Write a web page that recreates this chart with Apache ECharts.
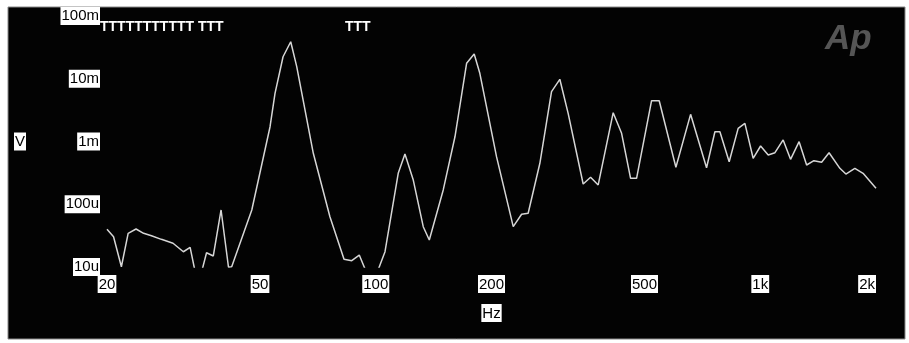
<!DOCTYPE html>
<html>
<head>
<meta charset="utf-8">
<script src="https://cdn.jsdelivr.net/npm/echarts@6/dist/echarts.min.js"></script>
<style>
  html, body { margin: 0; padding: 0; background: #fff; }
  #chart { width: 909px; height: 343px; }
</style>
</head>
<body>
<div id="chart"></div>
<script>
// frequency (Hz) of each point on the trace
var freqHz = [
  20, 20.8, 21.8, 22.7, 23.8, 24.9, 26.1, 27.7, 29.7, 31.6,
  32.9, 34.5, 36.3, 37.8, 39.6, 41.4, 42.2, 47.6, 53.1, 54.7, 57.4,
  60.1, 62.3, 68.8, 76.0, 82.7, 86.6, 90.6, 97.8, 105.7, 114.4,
  119.1, 125.2, 132.9, 137.8, 149.8, 160.7, 172.3, 180.3, 186.5, 206.1,
  227.8, 239.5, 249.1, 267.2, 286.5, 301.1, 316.5, 346.3, 362, 378.9,
  414.5, 435.9, 460, 476.8, 521.6, 546, 603.4, 658.9, 725, 762.2,
  785.3, 830.2, 876.1, 912.1, 958.3, 1002, 1049, 1092, 1147, 1199,
  1262, 1320, 1379, 1444, 1510, 1611, 1670, 1762, 1851, 2000
]
// level in microvolts
var levelUV = [
  40, 30.4, 10.1, 34.4, 40.3, 34.4, 31.5, 27.6, 23.9, 17.5,
  20.6, 5, 16.9, 15.0, 81, 9.9, 10.1, 81, 1720, 5860, 22400,
  38900, 15600, 649, 63.3, 13.3, 12.6, 15.5, 5, 17.5, 311,
  632, 243, 43.9, 26.9, 169, 1190, 17600, 24800, 12200, 573,
  43.9, 69.2, 71.8, 450, 6220, 9800, 2810, 210, 269, 203,
  2880, 1350, 259, 259, 4470, 4470, 388, 2710, 382, 1430,
  1430, 476, 1620, 1950, 540, 848, 610, 663, 1060, 520,
  993, 422, 494, 466, 663, 374, 303, 374, 311, 180
]
var xTicks = [20, 50, 100, 200, 500, 1000, 2000]
var yTickNames = { '-5': '10u', '-4': '100u', '-3': '1m', '-2': '10m', '-1': '100m' }

var pts = []
for (var i = 0; i < freqHz.length; i++) {
  pts.push([freqHz[i], levelUV[i] * 1e-6])
}

var labelBox = {
  color: '#000',
  backgroundColor: '#fff',
  padding: [2, 1, 1, 1],
  fontFamily: 'Liberation Sans, Arial, sans-serif',
  fontSize: 15
}

var myChart = echarts.init(document.getElementById('chart'))
var option = {
  backgroundColor: '#fff',
  animation: false,
  graphic: [
    { type: 'rect', z: -10, shape: { x: 8, y: 7, width: 897, height: 332 },
      style: { fill: '#030303', stroke: '#888', lineWidth: 1 } },
    { type: 'text', left: 100, top: 20, style: { text: 'TTTTTTTTTTT', fill: '#fff', font: 'bold 14px Liberation Sans' } },
    { type: 'text', left: 198, top: 20, style: { text: 'TTT', fill: '#fff', font: 'bold 14px Liberation Sans' } },
    { type: 'text', left: 345, top: 20, style: { text: 'TTT', fill: '#fff', font: 'bold 14px Liberation Sans' } },
    { type: 'text', left: 825, top: 22, style: { text: 'Ap', fill: '#555', font: 'italic bold 35px Liberation Sans' } }
  ],
  grid: { left: 107, right: 33, top: 16, bottom: 76 },
  xAxis: {
    type: 'log',
    logBase: 10,
    min: 20,
    max: 2000,
    name: 'Hz',
    nameLocation: 'middle',
    nameGap: 37,
    nameTextStyle: labelBox,
    axisLine: { show: false },
    axisTick: { show: false },
    splitLine: { show: false },
    axisLabel: Object.assign({}, labelBox, {
      margin: 8,
      customValues: xTicks,
      alignMaxLabel: 'right',
      formatter: function (v) {
        return v >= 1000 ? (Math.round(v / 100) / 10) + 'k' : String(Math.round(v))
      }
    })
  },
  yAxis: {
    type: 'log',
    logBase: 10,
    min: 1e-5,
    max: 0.1,
    name: 'V',
    nameLocation: 'middle',
    nameRotate: 0,
    nameGap: 81,
    nameTextStyle: labelBox,
    axisLine: { show: false },
    axisTick: { show: false },
    splitLine: { show: false },
    axisLabel: Object.assign({}, labelBox, {
      margin: 7,
      formatter: function (v) {
        return yTickNames[String(Math.round(Math.log10(v)))] || ''
      }
    })
  },
  series: [
    {
      type: 'line',
      data: pts,
      showSymbol: false,
      clip: true,
      lineStyle: { color: '#d6d6d6', width: 1.5 }
    }
  ]
}
myChart.setOption(option)
</script>
</body>
</html>
